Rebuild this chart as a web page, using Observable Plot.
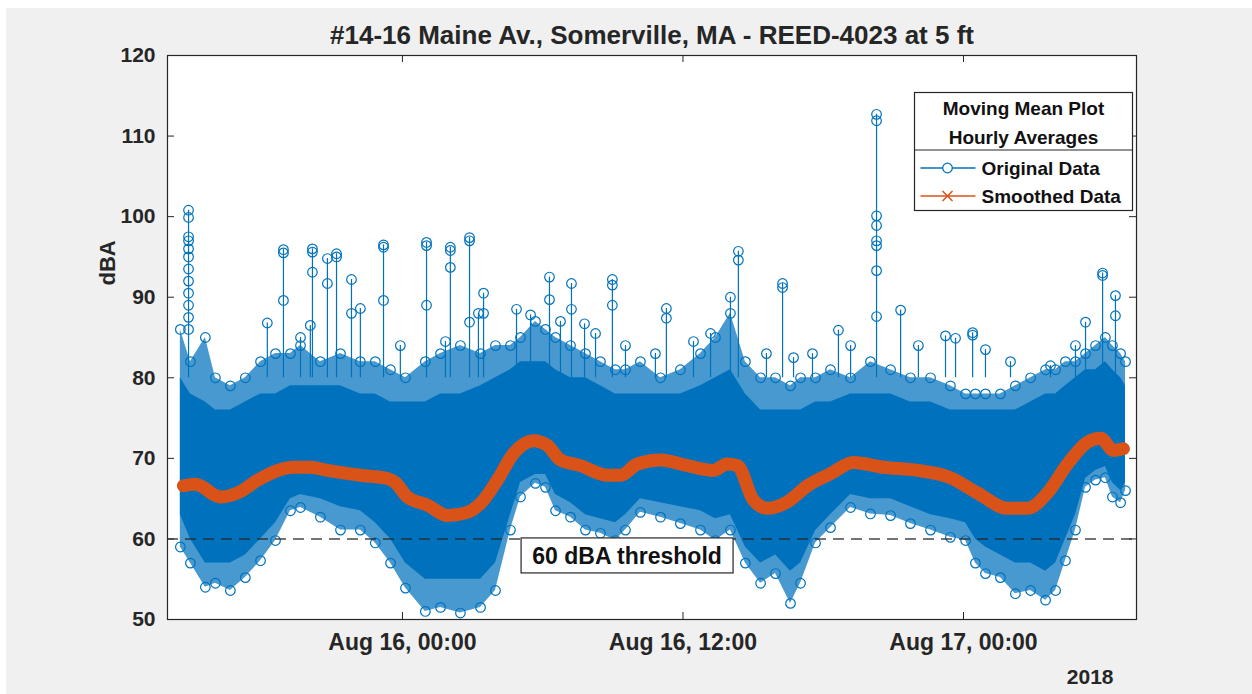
<!DOCTYPE html>
<html><head><meta charset="utf-8">
<script src="https://cdn.jsdelivr.net/npm/d3@7"></script>
<script src="https://cdn.jsdelivr.net/npm/@observablehq/plot@0.6"></script>
<style>
html,body{margin:0;padding:0;background:#ffffff;}
#wrap{position:relative;width:1252px;height:694px;overflow:hidden;}
#bg{position:absolute;left:6px;top:8px;right:0;bottom:0;background:#f0f0f0;}
#chart{position:absolute;left:0;top:0;width:1252px;height:694px;}
</style></head><body><div id="wrap"><div id="bg"></div><div id="chart"></div></div>
<script>
// ---------- data (hours are counted from 2018-08-15 00:00) ----------
const title = "#14-16 Maine Av., Somerville, MA - REED-4023 at 5 ft";
const yLabel = "dBA";
const yearLabel = "2018";
const legendTitle = ["Moving Mean Plot", "Hourly Averages"];
const seriesNames = ["Original Data", "Smoothed Data"];
const thresholdValue = 60;
const thresholdLabel = "60 dBA threshold";
const thresholdLabelHour = 33.63;
const yTicks = [50, 60, 70, 80, 90, 100, 110, 120];
const xTickHours = [24, 36, 48];
const xTickLabels = ["Aug 16, 00:00", "Aug 16, 12:00", "Aug 17, 00:00"];
const xDomainHours = [13.95, 55.4];

// envelope of the dense "Original Data" cloud
const bandHours = [14.50,14.93,15.57,16.00,16.64,17.28,17.93,18.57,19.21,19.64,
  20.49,21.35,22.20,22.84,23.49,24.13,24.98,25.63,26.48,27.34,
  27.98,28.62,29.05,29.69,30.12,30.55,31.19,31.83,32.47,33.11,
  33.54,34.18,35.04,35.89,36.75,37.39,38.03,38.67,39.32,39.96,
  40.60,41.03,41.67,42.31,43.17,44.02,44.88,45.73,46.59,47.44,
  48.09,48.51,48.94,49.58,50.22,50.87,51.51,51.94,52.36,52.79,
  53.22,53.65,54.07,54.37,54.72,54.93];
const bandOuterLow = [59.0,57.0,54.0,54.5,53.6,55.2,57.3,59.8,63.5,63.9,
  62.7,61.1,61.1,59.5,57.0,53.9,51.0,51.5,50.8,51.5,
  53.6,61.1,65.2,66.9,66.4,63.5,62.7,61.1,60.7,59.8,
  61.1,63.3,62.7,61.9,61.1,59.8,61.1,57.0,54.5,55.7,
  52.0,54.5,59.5,61.4,63.9,63.1,62.9,61.9,61.1,60.2,
  59.8,57.0,55.7,55.2,53.2,53.6,52.4,53.6,57.3,61.1,
  66.4,67.3,67.6,65.2,64.5,66.0];
const bandOuterHigh = [86,82,85,80,79,80,82,83,83,84,
  82,83,82,82,81,80,82,83,84,83,
  84,84,85,87,86,85,84,83,82,81,
  81,82,80,81,83,85,88,82,80,80,
  79,80,80,81,80,82,81,80,80,79,
  78,78,78,78,79,80,81,81,82,82,
  83,84,85,84,83,82];
const bandCoreLow = [63,60,57,57,57,58,60,62,65,65.5,
  65,64,63.5,62,60,57,55,55,55,55,
  57,63,67,68,68,65.5,64.5,63,62.5,62,
  63,65,64.5,64,63.5,62.5,63,59,57,58,
  56,57,61,63,65.5,65,65,64,63,62.5,
  62,60,59,58,57,57,56,57,60,63,
  67.5,68.5,69,67,66,67];
const bandCoreHigh = [80,78,77,76,76,77,78,78,79,79,
  79,79,78,78,77,77,77,78,78,79,
  80,81,82,82,82,81,80,80,79,78,
  78,78,78,78,79,80,81,78,76,76,
  76,76,77,77,78,78,78,77,77,76,
  76,76,76,76,76,77,78,78,79,80,
  81,81,82,81,80,79];

// isolated loud readings (spikes) above the cloud
const spikeHours = [14.85,18.91,20.15,20.79,21.18,21.82,22.20,23.19,25.03,26.05,
  26.87,27.47,30.29,31.23,31.79,32.98,35.29,38.37,40.26,44.28,
  45.31,42.65,47.66,48.39,53.22,53.95,54.50,
  18.22,19.64,20.06,23.91,25.84,27.25,28.88,29.48,30.76,32.26,
  33.54,34.82,36.45,37.18,38.03,39.57,40.73,41.54,43.17,46.07,
  47.23,48.94,50.01,51.72,52.79];
const spikeLevels = [
  [100.8,99.9,97.5,97.0,96.0,95.0,93.5,92.0,90.5,89.0,87.5,86.0],
  [95.9,95.5,89.6],[96.0,95.6,93.1],[94.8,91.7],[95.4,95.0],[92.2,88.0],[88.6],
  [96.5,96.2,89.6],[96.8,96.4,89.0],[96.2,95.8,93.7],[97.4,97.0,86.9],[90.5,88.0],
  [92.5,89.7],[91.7,88.5],[86.7],[92.2,91.5,89.0],[88.6,87.4],[95.7,94.6],[91.7,91.2],
  [112.7,111.9,100.1,98.9,97.0,96.4,93.3,87.6],
  [88.4],[85.9],[84.9],[85.6,85.3],[86.9],[93.0,92.7],[90.2,87.7],
  [86.8],[85.0],[86.5],[84.0],[84.5],[88.0],[88.5],[87.8],[87.0],[85.5],
  [84.0],[83.0],[84.5],[85.5],[90.0],[83.0],[82.5],[83.0],[84.0],[84.0],
  [85.2],[83.5],[82.0],[81.5],[84.0]];

// moving mean ("Smoothed Data")
const smoothHours = [14.63,15.14,15.49,15.87,16.21,16.94,17.93,19.34,20.06,20.79,
  22.20,23.36,23.70,24.21,25.07,25.93,26.78,27.34,28.06,28.75,
  29.60,30.20,30.76,31.61,32.77,33.33,34.05,35.04,36.19,37.30,
  37.90,38.33,39.02,39.61,40.47,41.33,42.31,43.29,44.58,46.03,
  47.44,48.60,49.88,50.74,51.59,52.45,53.30,53.86,54.42,54.84];
const smoothValues = [66.6,66.8,66.4,65.6,65.2,65.7,67.5,68.9,68.9,68.5,
  67.9,67.5,67.0,65.2,64.2,62.9,63.3,64.4,67.3,70.6,
  72.2,71.6,69.8,69.1,67.9,67.9,69.3,69.8,69.1,68.5,
  69.3,69.1,64.8,63.8,64.6,66.6,68.1,69.5,68.9,68.5,
  67.6,65.7,63.8,63.8,65.7,69.3,72.0,72.5,71.0,71.2];

// ---------- build ----------
const t0 = Date.UTC(2018, 7, 15);
const toDate = h => new Date(t0 + h * 3600000);
const blue = "#0072BD", orange = "#D95319", ink = "#262626";
const font = "'Liberation Sans', Arial, Helvetica, sans-serif";

const band = bandHours.map((h, i) => ({t: toDate(h), lo: bandOuterLow[i], hi: bandOuterHigh[i], clo: bandCoreLow[i], chi: bandCoreHigh[i]}));
const edgeDots = band.flatMap(d => [{t: d.t, v: d.lo}, {t: d.t, v: d.hi}]);
const spikes = spikeHours.map((h, i) => ({t: toDate(h), top: d3.max(spikeLevels[i])}));
const spikeDots = spikeHours.flatMap((h, i) => spikeLevels[i].map(v => ({t: toDate(h), v})));
const smooth = smoothHours.map((h, i) => ({t: toDate(h), v: smoothValues[i]}));
const xTickDates = xTickHours.map(toDate);
const labelOf = new Map(xTickDates.map((d, i) => [+d, xTickLabels[i]]));

const W = 1252, H = 694, mL = 167, mR = 116, mT = 55, mB = 75;
const fw = W - mL - mR, fh = H - mT - mB;

const plot = Plot.plot({
  width: W, height: H,
  marginLeft: mL, marginRight: mR, marginTop: mT, marginBottom: mB,
  style: {background: "transparent", fontFamily: font, color: ink, overflow: "visible"},
  x: {type: "utc", domain: xDomainHours.map(toDate)},
  y: {domain: [50, 120]},
  marks: [
    Plot.frame({fill: "white", stroke: null}),
    Plot.areaY(band, {x: "t", y1: "lo", y2: "hi", fill: blue, fillOpacity: 0.72}),
    Plot.areaY(band, {x: "t", y1: "clo", y2: "chi", fill: blue}),
    Plot.ruleX(spikes, {x: "t", y1: 80, y2: "top", stroke: blue, strokeWidth: 1.2}),
    Plot.dot(edgeDots, {x: "t", y: "v", r: 4.8, stroke: blue, strokeWidth: 1.2}),
    Plot.dot(spikeDots, {x: "t", y: "v", r: 4.8, stroke: blue, strokeWidth: 1.2}),
    Plot.line(smooth, {x: "t", y: "v", stroke: orange, strokeWidth: 13, curve: "monotone-x"}),
    Plot.ruleY([thresholdValue], {stroke: ink, strokeOpacity: 0.85, strokeDasharray: "11,7", strokeWidth: 1.5}),
    Plot.tickY(yTicks, {stroke: ink, insetRight: fw - 7}),
    Plot.tickY(yTicks, {stroke: ink, insetLeft: fw - 7}),
    Plot.tickX(xTickDates, {stroke: ink, insetTop: fh - 7}),
    Plot.tickX(xTickDates, {stroke: ink, insetBottom: fh - 7}),
    Plot.axisY({ticks: yTicks, tickSize: 0, tickPadding: 12, fontSize: 21, fontWeight: "bold", label: null, fill: ink}),
    Plot.axisX({ticks: xTickDates, tickFormat: d => labelOf.get(+d), tickSize: 0, tickPadding: 14, fontSize: 23, fontWeight: "bold", label: null, fill: ink}),
    Plot.text([title], {frameAnchor: "top", lineAnchor: "middle", dy: -20, fontSize: 26, fontWeight: "bold", fill: ink}),
    Plot.text([yLabel], {frameAnchor: "left", dx: -60, dy: -52, rotate: -90, fontSize: 22, fontWeight: "bold", fill: ink}),
    Plot.text([yearLabel], {frameAnchor: "bottom-right", lineAnchor: "middle", dx: -23, dy: 58, textAnchor: "end", fontSize: 21, fontWeight: "bold", fill: ink}),
    Plot.frame({stroke: ink, strokeWidth: 1.2})
  ]
});
document.getElementById("chart").append(plot);

const svg = d3.select(plot);
const sx = plot.scale("x"), sy = plot.scale("y");

// threshold label box
const tx = sx.apply(toDate(thresholdLabelHour)), ty = sy.apply(thresholdValue);
const tg = svg.append("g").attr("font-family", font).attr("font-weight", "bold");
tg.append("rect").attr("x", tx - 106).attr("y", ty - 0.5).attr("width", 212).attr("height", 35)
  .attr("fill", "white").attr("stroke", ink).attr("stroke-width", 1.2);
tg.append("text").attr("x", tx).attr("y", ty + 17.5).attr("dy", "0.35em").attr("text-anchor", "middle")
  .attr("font-size", 23).attr("fill", "#111").text(thresholdLabel);

// legend
const lx = 914.5, ly = 92.5, lw = 218, lh = 118;
const lg = svg.append("g").attr("font-family", font).attr("font-weight", "bold").attr("fill", "#111");
lg.append("rect").attr("x", lx).attr("y", ly).attr("width", lw).attr("height", lh).attr("fill", "white").attr("stroke", ink).attr("stroke-width", 1.2);
lg.append("line").attr("x1", lx).attr("x2", lx + lw).attr("y1", ly + 57.5).attr("y2", ly + 57.5).attr("stroke", ink).attr("stroke-width", 1.2);
legendTitle.forEach((s, i) => lg.append("text").attr("x", lx + lw / 2).attr("y", ly + 16 + i * 29).attr("dy", "0.35em")
  .attr("text-anchor", "middle").attr("font-size", 19).text(s));
[blue, orange].forEach((c, i) => {
  const yy = ly + 75.5 + i * 28;
  lg.append("line").attr("x1", lx + 6).attr("x2", lx + 61).attr("y1", yy).attr("y2", yy).attr("stroke", c).attr("stroke-width", 1.5);
  if (i === 0) lg.append("circle").attr("cx", lx + 33).attr("cy", yy).attr("r", 4.8).attr("fill", "white").attr("stroke", c).attr("stroke-width", 1.3);
  else lg.append("path").attr("d", `M${lx + 28},${yy - 5}L${lx + 38},${yy + 5}M${lx + 28},${yy + 5}L${lx + 38},${yy - 5}`).attr("stroke", c).attr("stroke-width", 1.5);
  lg.append("text").attr("x", lx + 67).attr("y", yy).attr("dy", "0.35em").attr("text-anchor", "start").attr("font-size", 19).text(seriesNames[i]);
});
</script></body></html>
